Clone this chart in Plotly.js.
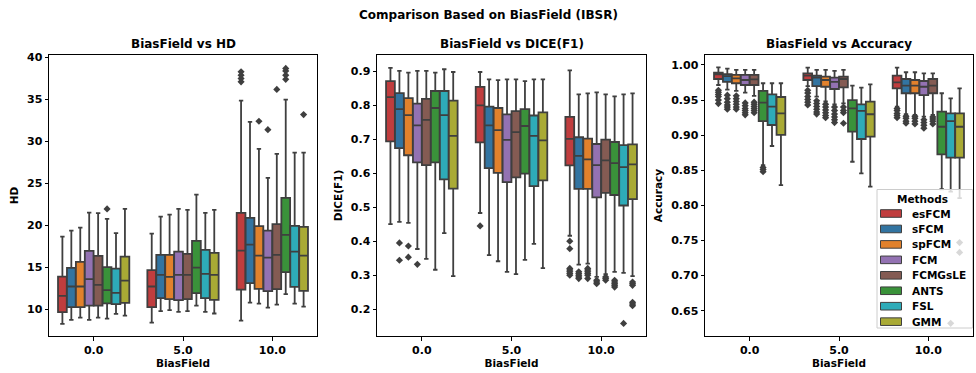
<!DOCTYPE html>
<html>
<head>
<meta charset="utf-8">
<script src="https://cdn.plot.ly/plotly-3.0.1.min.js"></script>
<style>html,body{margin:0;padding:0;background:#fff;}#chart{width:976px;height:373px;}</style>
</head>
<body>
<div id="chart"></div>
<script>
// Categories (BiasField levels) and methods
const categories = ['0.0', '5.0', '10.0'];
const methods = ['esFCM', 'sFCM', 'spFCM', 'FCM', 'FCMGsLE', 'ANTS', 'FSL', 'GMM'];
const colors = ['#c03d3e', '#3274a1', '#e1812c', '#9372b2', '#845b53', '#3a923a', '#2eabb8', '#a9aa35'];
const legendTitle = 'Methods';

// ---- HD: rows = methods, columns = categories ----
const hdLow = [[8.25, 8.4, 8.64], [8.73, 9.76, 10.79], [9.0, 9.88, 10.67], [8.73, 9.68, 10.19], [9.0, 9.76, 10.55], [8.88, 10.43, 11.79], [9.44, 9.68, 10.67], [9.24, 9.48, 10.31]];
const hdQ1 = [[9.64, 10.24, 12.34], [10.24, 11.31, 13.1], [10.24, 11.19, 12.42], [10.43, 11.07, 12.14], [10.43, 11.19, 12.38], [10.7, 11.9, 14.41], [10.6, 11.31, 12.66], [10.75, 11.11, 12.18]];
const hdMed = [[11.58, 12.7, 16.98], [12.7, 14.09, 17.7], [12.7, 13.85, 16.39], [13.57, 14.09, 16.15], [12.9, 14.09, 16.47], [12.26, 14.96, 18.86], [11.94, 14.2, 16.87], [13.41, 14.09, 16.39]];
const hdQ3 = [[13.89, 14.65, 21.48], [14.92, 16.47, 20.88], [15.64, 16.47, 19.89], [16.95, 16.87, 19.37], [16.35, 16.59, 20.13], [15.0, 18.14, 23.27], [14.84, 17.07, 19.93], [16.27, 16.71, 19.81]];
const hdUp = [[18.65, 19.0, 34.86], [19.37, 21.04, 32.32], [19.73, 21.28, 29.1], [21.5, 21.95, 25.65], [21.44, 21.83, 28.51], [20.76, 23.66, 34.98], [19.06, 21.48, 28.67], [21.95, 21.83, 28.67]];
// outliers: [methodIndex, categoryIndex, values]
const hdOut = [
  [5, 0, [21.95]],
  [0, 2, [37.1, 37.5, 37.9, 38.3]],
  [2, 2, [32.4]],
  [3, 2, [31.4]],
  [4, 2, [36.2]],
  [5, 2, [37.4, 37.9, 38.4, 38.7]],
  [7, 2, [33.2]]
];

// ---- DICE(F1) ----
const diceLow = [[0.45, 0.483, 0.416], [0.457, 0.359, 0.331], [0.454, 0.341, 0.334], [0.377, 0.31, 0.295], [0.348, 0.303, 0.303], [0.316, 0.345, 0.31], [0.424, 0.392, 0.307], [0.297, 0.321, 0.297]];
const diceQ1 = [[0.694, 0.691, 0.623], [0.674, 0.615, 0.554], [0.653, 0.601, 0.554], [0.632, 0.574, 0.529], [0.624, 0.588, 0.542], [0.632, 0.599, 0.536], [0.582, 0.562, 0.505], [0.555, 0.579, 0.524]];
const diceMed = [[0.824, 0.80, 0.701], [0.789, 0.741, 0.651], [0.771, 0.727, 0.641], [0.741, 0.698, 0.624], [0.757, 0.721, 0.638], [0.792, 0.739, 0.63], [0.771, 0.71, 0.618], [0.71, 0.697, 0.626]];
const diceQ3 = [[0.871, 0.854, 0.766], [0.836, 0.796, 0.706], [0.821, 0.792, 0.702], [0.805, 0.773, 0.686], [0.819, 0.783, 0.699], [0.842, 0.789, 0.692], [0.842, 0.77, 0.683], [0.814, 0.779, 0.685]];
const diceUp = [[0.91, 0.898, 0.903], [0.901, 0.876, 0.832], [0.896, 0.874, 0.835], [0.901, 0.876, 0.838], [0.901, 0.876, 0.832], [0.896, 0.871, 0.826], [0.906, 0.876, 0.832], [0.898, 0.876, 0.835]];
const diceOut = [
  [1, 0, [0.344, 0.395]],
  [2, 0, [0.353, 0.386]],
  [3, 0, [0.332]],
  [0, 1, [0.445]],
  [0, 2, [0.30, 0.305, 0.31, 0.315, 0.32, 0.378, 0.40]],
  [1, 2, [0.29, 0.295, 0.30, 0.305, 0.31]],
  [2, 2, [0.29, 0.30, 0.305, 0.31, 0.315, 0.32]],
  [3, 2, [0.275, 0.28, 0.285]],
  [4, 2, [0.285, 0.29, 0.295]],
  [5, 2, [0.265, 0.27, 0.275, 0.28, 0.285]],
  [6, 2, [0.158]],
  [7, 2, [0.27, 0.275, 0.28, 0.21, 0.215, 0.22]]
];

// ---- Accuracy ----
const accLow = [[0.9715, 0.97, 0.9406], [0.965, 0.955, 0.9298], [0.963, 0.948, 0.9288], [0.9606, 0.944, 0.9264], [0.956, 0.9454, 0.929], [0.8575, 0.8622, 0.823], [0.8846, 0.8457, 0.8195], [0.829, 0.8267, 0.8105]];
const accQ1 = [[0.98, 0.9786, 0.9668], [0.976, 0.97, 0.9597], [0.974, 0.969, 0.9597], [0.9715, 0.9658, 0.957], [0.9715, 0.968, 0.9597], [0.92, 0.905, 0.8728], [0.9145, 0.8946, 0.868], [0.9003, 0.898, 0.868]];
const accMed = [[0.9867, 0.9848, 0.9753], [0.984, 0.982, 0.9705], [0.981, 0.9786, 0.9705], [0.9786, 0.976, 0.969], [0.9796, 0.98, 0.9705], [0.9463, 0.9383, 0.912], [0.9406, 0.9345, 0.92], [0.931, 0.9298, 0.912]];
const accQ3 = [[0.989, 0.988, 0.9848], [0.987, 0.9848, 0.98], [0.986, 0.9833, 0.9786], [0.9858, 0.982, 0.9772], [0.986, 0.9833, 0.98], [0.963, 0.95, 0.9335], [0.958, 0.944, 0.931], [0.9544, 0.9478, 0.931]];
const accUp = [[0.9967, 0.9962, 0.9962], [0.9948, 0.993, 0.9896], [0.993, 0.993, 0.9896], [0.993, 0.9915, 0.988], [0.993, 0.993, 0.988], [0.974, 0.9705, 0.9597], [0.974, 0.9677, 0.9525], [0.974, 0.9725, 0.9668]];
const accOut = [
  [0, 0, [0.945, 0.95, 0.955, 0.958, 0.961, 0.964]],
  [1, 0, [0.937, 0.94, 0.943, 0.947, 0.952, 0.957]],
  [2, 0, [0.937, 0.94, 0.944, 0.948, 0.952, 0.956]],
  [3, 0, [0.929, 0.932, 0.935, 0.938, 0.942, 0.946]],
  [4, 0, [0.932, 0.935, 0.938, 0.941, 0.944, 0.947]],
  [5, 0, [0.848, 0.851, 0.854]],
  [0, 1, [0.943, 0.947, 0.951, 0.955, 0.96, 0.964]],
  [1, 1, [0.93, 0.933, 0.937, 0.941, 0.945, 0.949]],
  [2, 1, [0.925, 0.928, 0.932, 0.936, 0.94, 0.944]],
  [3, 1, [0.918, 0.922, 0.926, 0.93, 0.935, 0.94]],
  [4, 1, [0.917, 0.932, 0.935, 0.94]],
  [0, 2, [0.925, 0.928, 0.931, 0.935, 0.938]],
  [1, 2, [0.917, 0.92, 0.924, 0.927]],
  [2, 2, [0.916, 0.92, 0.924, 0.927]],
  [3, 2, [0.91, 0.914, 0.918, 0.922]],
  [4, 2, [0.916, 0.92, 0.923, 0.926]],
  [6, 2, [0.632]],
  [7, 2, [0.733, 0.747]]
];

const panels = [
  {low: hdLow, q1: hdQ1, med: hdMed, q3: hdQ3, up: hdUp, out: hdOut, xa: 'x', ya: 'y'},
  {low: diceLow, q1: diceQ1, med: diceMed, q3: diceQ3, up: diceUp, out: diceOut, xa: 'x2', ya: 'y2'},
  {low: accLow, q1: accQ1, med: accMed, q3: accQ3, up: accUp, out: accOut, xa: 'x3', ya: 'y3'}
];

const edge = '#3f3f3f';
const nM = methods.length;
const slot = 0.8 / nM;
const catPos = categories.map((c, i) => i);
const offset = m => (m - (nM - 1) / 2) * slot;

const traces = [];
panels.forEach((p, pi) => {
  methods.forEach((name, m) => {
    traces.push({
      type: 'box',
      name: name,
      showlegend: false,
      xaxis: p.xa, yaxis: p.ya,
      x: catPos.map(c => c + offset(m)),
      q1: p.q1[m], median: p.med[m], q3: p.q3[m],
      lowerfence: p.low[m], upperfence: p.up[m],
      width: slot * 0.98,
      whiskerwidth: 0.5,
      fillcolor: colors[m],
      line: {color: edge, width: 1.8},
      hoverinfo: 'skip'
    });
  });
  p.out.forEach(([m, c, vals]) => {
    traces.push({
      type: 'scatter', mode: 'markers',
      xaxis: p.xa, yaxis: p.ya,
      x: vals.map(() => catPos[c] + offset(m)),
      y: vals,
      showlegend: false,
      marker: {symbol: 'diamond', size: 5.5, color: edge},
      hoverinfo: 'skip'
    });
  });
});

const H = 373, W = 976;
const yDom = [1 - 336 / H, 1 - 55 / H];
const xDoms = [[49 / W, 317 / W], [377 / W, 646 / W], [705 / W, 973 / W]];
const font = {family: 'DejaVu Sans', weight: 'bold', color: '#000'};

function xaxis(i) {
  return {
    domain: xDoms[i], range: [-0.5, 2.5],
    tickvals: catPos, ticktext: categories,
    showline: true, mirror: true, linecolor: '#000', linewidth: 1,
    ticks: 'outside', ticklen: 3.5, tickwidth: 1, tickcolor: '#000',
    showgrid: false, zeroline: false,
    tickfont: Object.assign({size: 11}, font),
    title: {text: 'BiasField', font: Object.assign({size: 10.5}, font), standoff: 2},
    anchor: i === 0 ? 'y' : 'y' + (i + 1)
  };
}
function yaxis(i, title, range, dtick, fmt, t0) {
  return {
    domain: yDom, range: range, dtick: dtick, tick0: t0, tickformat: fmt,
    showline: true, mirror: true, linecolor: '#000', linewidth: 1,
    ticks: 'outside', ticklen: 3.5, tickwidth: 1, tickcolor: '#000',
    showgrid: false, zeroline: false,
    tickfont: Object.assign({size: 11}, font),
    title: {text: title, font: Object.assign({size: 10.5}, font), standoff: 6},
    anchor: i === 0 ? 'x' : 'x' + (i + 1)
  };
}

const subTitles = ['BiasField vs HD', 'BiasField vs DICE(F1)', 'BiasField vs Accuracy'];
const annotations = subTitles.map((t, i) => ({
  text: t, xref: 'paper', yref: 'paper',
  x: (xDoms[i][0] + xDoms[i][1]) / 2, y: 1 - 44 / H,
  xanchor: 'center', yanchor: 'middle', showarrow: false,
  font: Object.assign({size: 12}, font)
}));
annotations.push({
  text: 'Comparison Based on BiasField (IBSR)', xref: 'paper', yref: 'paper',
  x: 0.5, y: 1 - 15 / H, xanchor: 'center', yanchor: 'middle', showarrow: false,
  font: Object.assign({size: 12}, font)
});

// Legend drawn as a matplotlib-style box (paper pixel coordinates)
const px = v => v / W, py = v => 1 - v / H;
const shapes = [{
  type: 'rect', xref: 'paper', yref: 'paper', layer: 'above',
  x0: px(877), x1: px(972.5), y0: py(328), y1: py(189.5),
  fillcolor: 'rgba(255,255,255,0.8)', line: {color: '#cccccc', width: 1}
}];
annotations.push({
  text: legendTitle, xref: 'paper', yref: 'paper', x: px(922), y: py(198.5),
  xanchor: 'center', yanchor: 'middle', showarrow: false,
  font: Object.assign({size: 10.5}, font)
});
methods.forEach((name, m) => {
  const cy = 213.5 + m * 15.45;
  shapes.push({
    type: 'rect', xref: 'paper', yref: 'paper', layer: 'above',
    x0: px(880.5), x1: px(901.5), y0: py(cy + 3.8), y1: py(cy - 3.8),
    fillcolor: colors[m], line: {color: edge, width: 1}
  });
  annotations.push({
    text: name, xref: 'paper', yref: 'paper', x: px(909.5), y: py(cy),
    xanchor: 'left', yanchor: 'middle', showarrow: false,
    font: Object.assign({size: 10.5}, font)
  });
});

const layout = {
  width: W, height: H,
  margin: {l: 0, r: 0, t: 0, b: 0},
  paper_bgcolor: '#fff', plot_bgcolor: '#fff',
  font: {family: 'DejaVu Sans', color: '#000'},
  boxmode: 'overlay',
  showlegend: false,
  xaxis: xaxis(0), xaxis2: xaxis(1), xaxis3: xaxis(2),
  yaxis: yaxis(0, 'HD', [6.8, 40.3], 5, '', 10),
  yaxis2: yaxis(1, 'DICE(F1)', [0.121, 0.948], 0.1, '.1f', 0.2),
  yaxis3: yaxis(2, 'Accuracy', [0.614, 1.0142], 0.05, '.2f', 0.65),
  annotations: annotations,
  shapes: shapes
};

Plotly.newPlot('chart', traces, layout, {staticPlot: true, displayModeBar: false});
</script>
</body>
</html>
